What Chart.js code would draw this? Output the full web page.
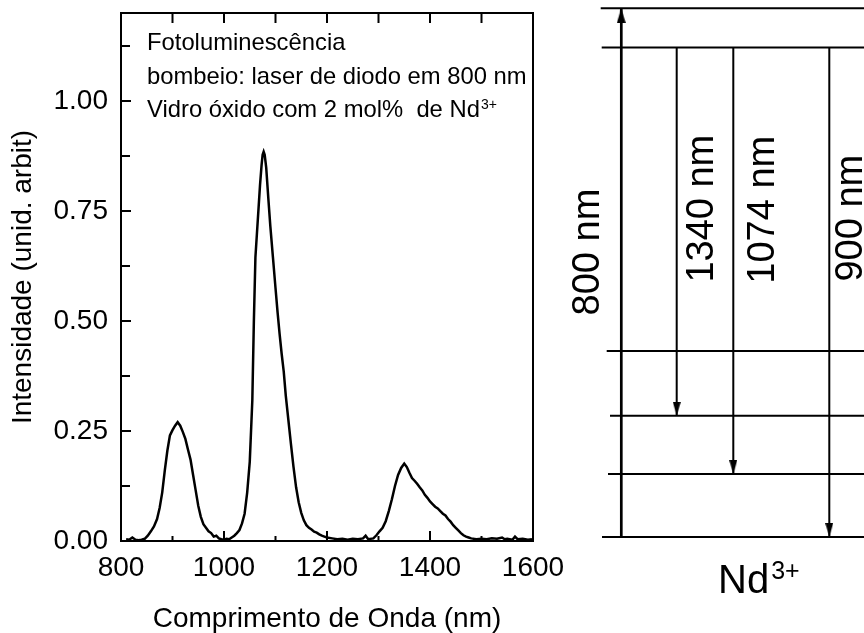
<!DOCTYPE html>
<html><head><meta charset="utf-8">
<script src="https://cdn.jsdelivr.net/npm/chart.js@4.4.0/dist/chart.umd.min.js"></script>
<style>
html,body{margin:0;padding:0;background:#fff;width:864px;height:633px;overflow:hidden}
.box{position:absolute;top:0}
</style></head><body>
<div class="box" style="left:0;width:600px;height:633px"><canvas id="c1" width="600" height="633"></canvas></div>
<div class="box" style="left:560px;width:304px;height:633px"><canvas id="c2" width="304" height="633"></canvas></div>
<script>
// ---------- Spectrum data ----------
const wavelengths = [810,816,822,828,834,840,846,852,858,864,870,875,880,885,890,895,900,905,910,915,920,925,930,935,940,945,950,955,960,965,970,975,980,985,990,995,
1000,1005,1010,1015,1020,1025,1030,1035,1040,1045,1050,1055,1058,1061,1064,1067,1070,1073,1075,1077,1079,1082,1086,1090,1095,
1100,1104,1108,1112,1116,1120,1125,1130,1135,1140,1145,1150,1155,1160,1165,1170,1175,1180,1185,1190,1195,
1200,1210,1220,1230,1240,1250,1260,1270,1275,1280,1290,1296,
1302,1308,1314,1320,1326,1332,1338,1344,1350,1355,1360,1365,1370,1375,1380,1385,1390,1395,
1400,1405,1410,1415,1420,1425,1430,1435,1440,1445,1450,1455,1460,1465,1470,1475,1480,1490,
1500,1510,1520,1530,1540,1545,1550,1560,1565,1570,1580,1590,1598];
const intensities = [.004,.003,.008,.003,.002,.003,.005,.012,.022,.033,.050,.075,.110,.160,.205,.240,.252,.262,.270,.262,.248,.232,.208,.185,.150,.115,.080,.055,.038,.030,.022,.018,.010,.012,.006,.004,
.003,.005,.004,.008,.012,.018,.025,.040,.062,.110,.180,.320,.500,.645,.700,.755,.810,.855,.878,.885,.878,.848,.780,.715,.645,
.575,.520,.470,.425,.385,.330,.275,.220,.168,.122,.088,.064,.047,.036,.030,.026,.021,.019,.015,.012,.010,
.008,.006,.004,.005,.003,.005,.004,.006,.012,.004,.006,.013,
.022,.030,.045,.068,.095,.125,.150,.166,.176,.168,.155,.143,.137,.130,.122,.115,.105,.098,
.090,.084,.078,.074,.068,.062,.058,.050,.044,.036,.030,.024,.018,.013,.010,.008,.006,.004,
.005,.004,.006,.005,.008,.004,.005,.003,.010,.004,.005,.003,.004];
const xMajorTicks = [800,1000,1200,1400,1600];
const xMinorTicks = [900,1100,1300,1500];
const yMajorTicks = [0,0.25,0.5,0.75,1.0];
const yMinorTicks = [0.125,0.375,0.625,0.875,1.125];
const annotationLines = ['Fotoluminescência','bombeio: laser de diodo em 800 nm','Vidro óxido com 2 mol%  de Nd'];
const annotationSup = '3+';

// ---------- Energy level diagram data ----------
const levelEnergies = [0, 0.119, 0.2293, 0.3516, 0.9257, 1.0];   // relative energy of Nd3+ levels
const transitionLabels = ['800 nm','1340 nm','1074 nm','900 nm'];
const transitionFrom = [0,4,4,4];
const transitionTo = [5,2,1,0];
const ionLabel = 'Nd';
const ionCharge = '3+';

const FONT = '"Liberation Sans", Arial, Helvetica, sans-serif';

// ---------- Chart 1: spectrum ----------
const framePlugin = {
  id:'frame',
  afterDraw(chart){
    const {ctx, chartArea:a, scales:{x,y}} = chart;
    ctx.save();
    ctx.strokeStyle='#000'; ctx.lineWidth=2;
    ctx.strokeRect(a.left, a.top, a.right-a.left, a.bottom-a.top);
    ctx.beginPath();
    xMajorTicks.forEach(v=>{const p=x.getPixelForValue(v);
      ctx.moveTo(p,a.bottom); ctx.lineTo(p,a.bottom-10);
      ctx.moveTo(p,a.top); ctx.lineTo(p,a.top+10);});
    xMinorTicks.forEach(v=>{const p=x.getPixelForValue(v);
      ctx.moveTo(p,a.bottom); ctx.lineTo(p,a.bottom-5);
      ctx.moveTo(p,a.top); ctx.lineTo(p,a.top+10);});
    yMajorTicks.forEach(v=>{const p=y.getPixelForValue(v);
      ctx.moveTo(a.left,p); ctx.lineTo(a.left+10,p);});
    yMinorTicks.forEach(v=>{const p=y.getPixelForValue(v);
      ctx.moveTo(a.left,p); ctx.lineTo(a.left+9,p);});
    ctx.stroke();
    // annotation
    ctx.fillStyle='#000'; ctx.textAlign='left'; ctx.textBaseline='alphabetic';
    ctx.font='23.8px '+FONT;
    const tx=a.left+26;
    const base=[a.top+37, a.top+71, a.top+104];
    annotationLines.forEach((t,i)=>ctx.fillText(t,tx,base[i]));
    const w=ctx.measureText(annotationLines[2]).width;
    ctx.font='14px '+FONT;
    ctx.fillText(annotationSup, tx+w+1, base[2]-8);
    ctx.restore();
  }
};

new Chart(document.getElementById('c1'), {
  type:'scatter',
  data:{datasets:[{
    data: wavelengths.map((w,i)=>({x:w,y:intensities[i]})),
    showLine:true, borderColor:'#000', borderWidth:2.5, pointRadius:0, tension:0
  }]},
  options:{
    responsive:false, animation:false, events:[],
    layout:{padding:{left:0,top:13,right:67,bottom:0}, autoPadding:false},
    plugins:{legend:{display:false}, tooltip:{enabled:false}},
    scales:{
      x:{type:'linear', min:800, max:1600, position:'bottom',
        afterBuildTicks:s=>{s.ticks=xMajorTicks.map(v=>({value:v}));},
        ticks:{font:{family:FONT,size:28}, color:'#000', padding:10, maxRotation:0, autoSkip:false, callback:v=>String(v)},
        grid:{display:false, drawTicks:false}, border:{display:false},
        title:{display:true, text:'Comprimento de Onda (nm)', font:{family:FONT,size:28,lineHeight:1.0}, color:'#000', padding:{top:0,bottom:0}},
        afterFit:s=>{s.height=92; s.paddingLeft=0; s.paddingRight=0;}
      },
      y:{type:'linear', min:0, max:1.2, position:'left',
        afterBuildTicks:s=>{s.ticks=yMajorTicks.map(v=>({value:v}));},
        ticks:{font:{family:FONT,size:28}, color:'#000', padding:13, callback:v=>Number(v).toFixed(2)},
        grid:{display:false, drawTicks:false}, border:{display:false},
        title:{display:true, text:'Intensidade (unid. arbit)', font:{family:FONT,size:28}, color:'#000', padding:{top:6,bottom:0}},
        afterFit:s=>{s.width=121; s.paddingTop=0; s.paddingBottom=0;}
      }
    }
  },
  plugins:[framePlugin]
});

// ---------- Chart 2: energy levels ----------
function arrowHead(w,h){
  const c=document.createElement('canvas'); c.width=w; c.height=2*h;
  const g=c.getContext('2d'); g.fillStyle='#000';
  g.beginPath(); g.moveTo(0,0); g.lineTo(w,0); g.lineTo(w/2,h); g.closePath(); g.fill();
  return c;
}
const headSmall = arrowHead(8,14);
const headBig = arrowHead(9,15);

const levelStartX = [42,48,50,46.7,41.7,40.7];
const arrowX = [61.3,116.7,173.3,269.3];
const labelX = [28.5,142.5,204,291.5];
const labelY = [0.539,0.621,0.619,0.603];

const ds2 = [];
levelEnergies.forEach((e,i)=>{
  ds2.push({data:[{x:levelStartX[i],y:e},{x:320,y:e}], showLine:true, borderColor:'#000', borderWidth:2, pointRadius:0});
});
transitionFrom.forEach((f,i)=>{
  const up = levelEnergies[transitionTo[i]] > levelEnergies[f];
  ds2.push({data:[{x:arrowX[i],y:levelEnergies[f]},{x:arrowX[i],y:levelEnergies[transitionTo[i]]}],
    showLine:true, borderColor:'#000', borderWidth: up?2.7:2,
    pointRadius:[0,1], pointStyle: up?headBig:headSmall, rotation: up?180:0,
    pointBackgroundColor:'#000', pointBorderWidth:0});
});

const labelPlugin = {
  id:'labels',
  afterDraw(chart){
    const {ctx, scales:{x,y}} = chart;
    ctx.save(); ctx.fillStyle='#000';
    ctx.font='38px '+FONT; ctx.textAlign='center'; ctx.textBaseline='middle';
    transitionLabels.forEach((t,i)=>{
      ctx.save();
      ctx.translate(x.getPixelForValue(labelX[i]), y.getPixelForValue(labelY[i]));
      ctx.rotate(-Math.PI/2);
      ctx.fillText(t,0,0);
      ctx.restore();
    });
    ctx.textAlign='left'; ctx.textBaseline='alphabetic';
    ctx.font='40px '+FONT;
    const bx=x.getPixelForValue(158), by=y.getPixelForValue(-0.106);
    ctx.fillText(ionLabel,bx,by);
    const w=ctx.measureText(ionLabel).width;
    ctx.font='25px '+FONT;
    ctx.fillText(ionCharge,bx+w+2,by-14);
    ctx.restore();
  }
};

new Chart(document.getElementById('c2'), {
  type:'scatter',
  data:{datasets:ds2},
  options:{
    responsive:false, animation:false, events:[],
    layout:{padding:0, autoPadding:false},
    plugins:{legend:{display:false}, tooltip:{enabled:false}},
    scales:{
      x:{type:'linear', min:0, max:304, display:false},
      y:{type:'linear', min:-0.1816, max:1.0157, display:false}
    }
  },
  plugins:[labelPlugin]
});
</script>
</body></html>
